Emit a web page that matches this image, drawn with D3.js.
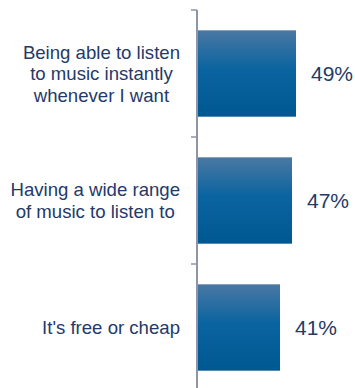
<!DOCTYPE html>
<html>
<head>
<meta charset="utf-8">
<script src="https://cdn.jsdelivr.net/npm/d3@7"></script>
<style>
  html, body { margin: 0; padding: 0; background: #ffffff; }
  svg { display: block; }
  text { font-family: "Liberation Sans", Arial, sans-serif; }
</style>
</head>
<body>
<svg id="chart" width="355" height="388"></svg>
<script>
// Survey answers and their share of respondents (%)
const categories = [
  ["Being able to listen", "to music instantly", "whenever I want"],
  ["Having a wide range", "of music to listen to"],
  ["It's free or cheap"]
];
const values = [49, 47, 41];
const valueLabels = ["49%", "47%", "41%"];

const W = 355, H = 388;
const axisX = 197;
const textColor = "#243a68";

const svg = d3.select("#chart");

const keys = d3.range(values.length);

const y = d3.scaleBand()
  .domain(keys)
  .range([10, 391])
  .paddingInner(0.32)
  .paddingOuter(0.16);

const x = d3.scaleLinear()
  .domain([0, 100])
  .range([axisX + 1, axisX + 201]);

// Bar fill gradient
const defs = svg.append("defs");
const grad = defs.append("linearGradient")
  .attr("id", "barGrad")
  .attr("x1", 0).attr("y1", 0).attr("x2", 0).attr("y2", 1);
grad.append("stop").attr("offset", "0%").attr("stop-color", "#4a78a3");
grad.append("stop").attr("offset", "45%").attr("stop-color", "#0a64a0");
grad.append("stop").attr("offset", "100%").attr("stop-color", "#005891");

// Bars
svg.append("g").selectAll("rect")
  .data(keys)
  .join("rect")
  .attr("x", x(0))
  .attr("y", d => y(d))
  .attr("width", d => x(values[d]) - x(0))
  .attr("height", y.bandwidth())
  .attr("fill", "url(#barGrad)");

// Category axis with ticks at band boundaries
const step = y.step();
const boundaries = keys.map(d => y(d) - step * y.paddingInner() / 2 + (d === 0 ? step * (y.paddingInner() / 2 - y.paddingOuter()) : 0));
const axisG = svg.append("g");
axisG.append("line")
  .attr("x1", axisX).attr("x2", axisX)
  .attr("y1", 10).attr("y2", H)
  .attr("stroke", "#8e95a8").attr("stroke-width", 2);
axisG.selectAll("line.tick")
  .data(boundaries)
  .join("line")
  .attr("class", "tick")
  .attr("x1", axisX - 6).attr("x2", axisX)
  .attr("y1", d => d).attr("y2", d => d)
  .attr("stroke", "#8e95a8").attr("stroke-width", 1.5);

// Category labels: lines centred on each other, block right-aligned near the axis
const lineH = 21.5;
const labelRight = 180;
keys.forEach(d => {
  const lines = categories[d];
  const cy = y(d) + y.bandwidth() / 2;
  const g = svg.append("g");
  const texts = g.selectAll("text")
    .data(lines)
    .join("text")
    .attr("y", (t, i) => cy + (i - (lines.length - 1) / 2) * lineH)
    .attr("dy", "0.35em")
    .attr("text-anchor", "middle")
    .attr("font-size", 18.6)
    .attr("fill", textColor)
    .text(t => t);
  let maxW = 0;
  texts.each(function() { maxW = Math.max(maxW, this.getComputedTextLength()); });
  texts.attr("x", labelRight - maxW / 2);
});

// Value labels
svg.append("g").selectAll("text")
  .data(keys)
  .join("text")
  .attr("x", d => x(values[d]) + 15)
  .attr("y", d => y(d) + y.bandwidth() / 2)
  .attr("dy", "0.36em")
  .attr("font-size", 21)
  .attr("fill", textColor)
  .text(d => valueLabels[d]);
</script>
</body>
</html>
